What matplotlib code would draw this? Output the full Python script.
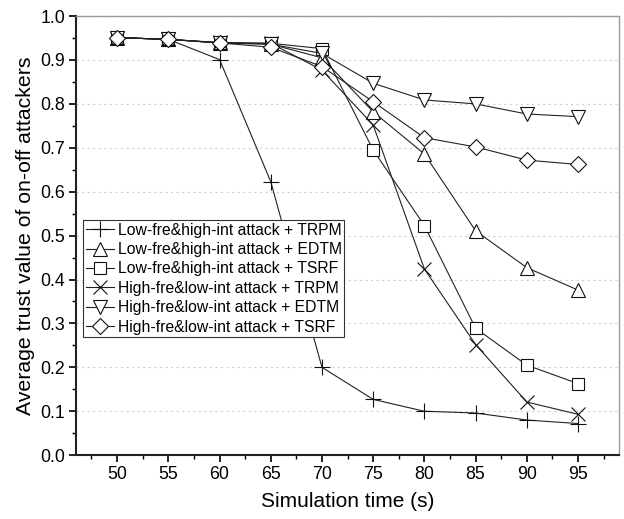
import matplotlib
matplotlib.use("Agg")
from matplotlib import pyplot as plt
from matplotlib.ticker import MultipleLocator

plt.rcParams['font.family'] = ['Liberation Sans', 'DejaVu Sans']

# simulation time (s)
sim_time = [50, 55, 60, 65, 70, 75, 80, 85, 90, 95]

# average trust value of on-off attackers
low_trpm = [0.951, 0.947, 0.901, 0.623, 0.200, 0.127, 0.100, 0.096, 0.080, 0.072]
low_edtm = [0.951, 0.947, 0.939, 0.936, 0.905, 0.782, 0.686, 0.511, 0.427, 0.376]
low_tsrf = [0.951, 0.947, 0.939, 0.938, 0.926, 0.695, 0.523, 0.289, 0.205, 0.163]
high_trpm = [0.951, 0.947, 0.940, 0.938, 0.877, 0.752, 0.424, 0.252, 0.121, 0.093]
high_edtm = [0.951, 0.947, 0.939, 0.936, 0.915, 0.847, 0.809, 0.800, 0.777, 0.771]
high_tsrf = [0.951, 0.947, 0.939, 0.929, 0.885, 0.805, 0.723, 0.702, 0.672, 0.662]

labels = ['Low-fre&high-int attack + TRPM',
          'Low-fre&high-int attack + EDTM',
          'Low-fre&high-int attack + TSRF',
          'High-fre&low-int attack + TRPM',
          'High-fre&low-int attack + EDTM',
          'High-fre&low-int attack + TSRF']
series = [low_trpm, low_edtm, low_tsrf, high_trpm, high_edtm, high_tsrf]
markers = ['+', '^', 's', 'x', 'v', 'D']
sizes = [11, 10, 8.5, 10, 10, 8]

fig = plt.figure(figsize=(6.24, 5.19), dpi=100)
ax = fig.add_axes([0.122, 0.123, 0.870, 0.846])

for y, lab, m, ms in zip(series, labels, markers, sizes):
    ax.plot(sim_time, y, color='#222222', linewidth=0.8, marker=m, markersize=ms,
            markerfacecolor='white', markeredgecolor='#111111', markeredgewidth=0.8,
            label=lab)

ax.set_xlim(46, 99)
ax.set_ylim(0, 1.0)
ax.xaxis.set_major_locator(MultipleLocator(5))
ax.xaxis.set_minor_locator(MultipleLocator(2.5))
ax.yaxis.set_major_locator(MultipleLocator(0.1))
ax.yaxis.set_minor_locator(MultipleLocator(0.05))
ax.set_xticks(sim_time)
ax.yaxis.set_major_formatter(matplotlib.ticker.FormatStrFormatter('%.1f'))

ax.grid(axis='y', linestyle=(0, (2, 3)), color='#d0d0d0', linewidth=0.8)
ax.set_axisbelow(True)

ax.tick_params(which='major', direction='out', length=5, width=1.2, labelsize=12.8,
               top=False, right=False, pad=3)
ax.tick_params(which='minor', direction='out', length=3, width=1.0,
               top=False, right=False)

for side in ['left', 'bottom']:
    ax.spines[side].set_linewidth(1.5)
    ax.spines[side].set_color('#222222')
for side in ['top', 'right']:
    ax.spines[side].set_linewidth(1.0)
    ax.spines[side].set_color('#999999')

ax.set_xlabel('Simulation time (s)', fontsize=15, labelpad=6)
ax.set_ylabel('Average trust value of on-off attackers', fontsize=15.3, labelpad=4)

leg = ax.legend(loc='upper left', bbox_to_anchor=(0.013, 0.535), fontsize=11.3,
                frameon=True, fancybox=False, edgecolor='#333333', framealpha=1,
                borderpad=0.15, labelspacing=0.28, handlelength=1.8,
                handletextpad=0.25, borderaxespad=0)
leg.get_frame().set_linewidth(0.8)

plt.savefig('out.png', dpi=100)
